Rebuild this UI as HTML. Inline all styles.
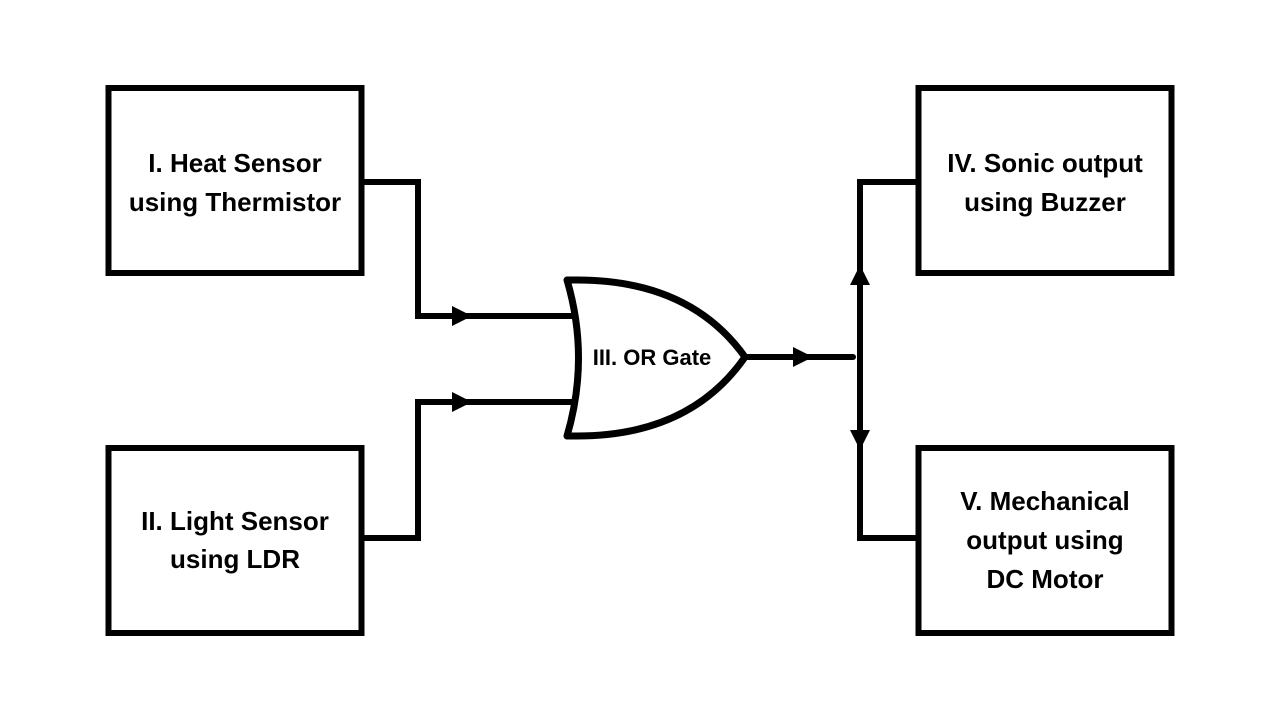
<!DOCTYPE html>
<html><head><style>
html,body{margin:0;padding:0;background:#fff;}
svg{display:block;}
text{font-family:"Liberation Sans",sans-serif;font-weight:bold;fill:#000;}
</style></head><body>
<svg width="1280" height="720" viewBox="0 0 1280 720" xmlns="http://www.w3.org/2000/svg">
<g fill="none" stroke="#000" stroke-width="6">
<rect x="108.5" y="88" width="253" height="185"/>
<rect x="108.5" y="448" width="253" height="185"/>
<rect x="918.5" y="88" width="253" height="185"/>
<rect x="918.5" y="448" width="253" height="185"/>
<polyline points="362,182 418,182 418,316 575,316"/>
<polyline points="362,538 418,538 418,402 575,402"/>
<path d="M567,280 L577,280 Q690,280 745,357 Q690,436 577,436 L567,436 Q590,358 567,280 Z" stroke-linejoin="round" stroke-width="7"/>
<line x1="745" y1="357" x2="853" y2="357" stroke-linecap="round"/>
<polyline points="917,182 860,182 860,538 917,538"/>
</g>
<g fill="#000">
<polygon points="452,306 472,316 452,326"/>
<polygon points="452,392 472,402 452,412"/>
<polygon points="793,347 813,357 793,367"/>
<polygon points="850,285 860,265 870,285"/>
<polygon points="850,430 860,450 870,430"/>
</g>
<g font-size="26" text-anchor="middle">
<text x="235" y="172">I. Heat Sensor</text>
<text x="235" y="211">using Thermistor</text>
<text x="235" y="530">II. Light Sensor</text>
<text x="235" y="568">using LDR</text>
<text x="1045" y="172">IV. Sonic output</text>
<text x="1045" y="211">using Buzzer</text>
<text x="1045" y="510">V. Mechanical</text>
<text x="1045" y="549">output using</text>
<text x="1045" y="588">DC Motor</text>
</g>
<text x="652" y="365" font-size="22" text-anchor="middle">III. OR Gate</text>
</svg>
</body></html>
